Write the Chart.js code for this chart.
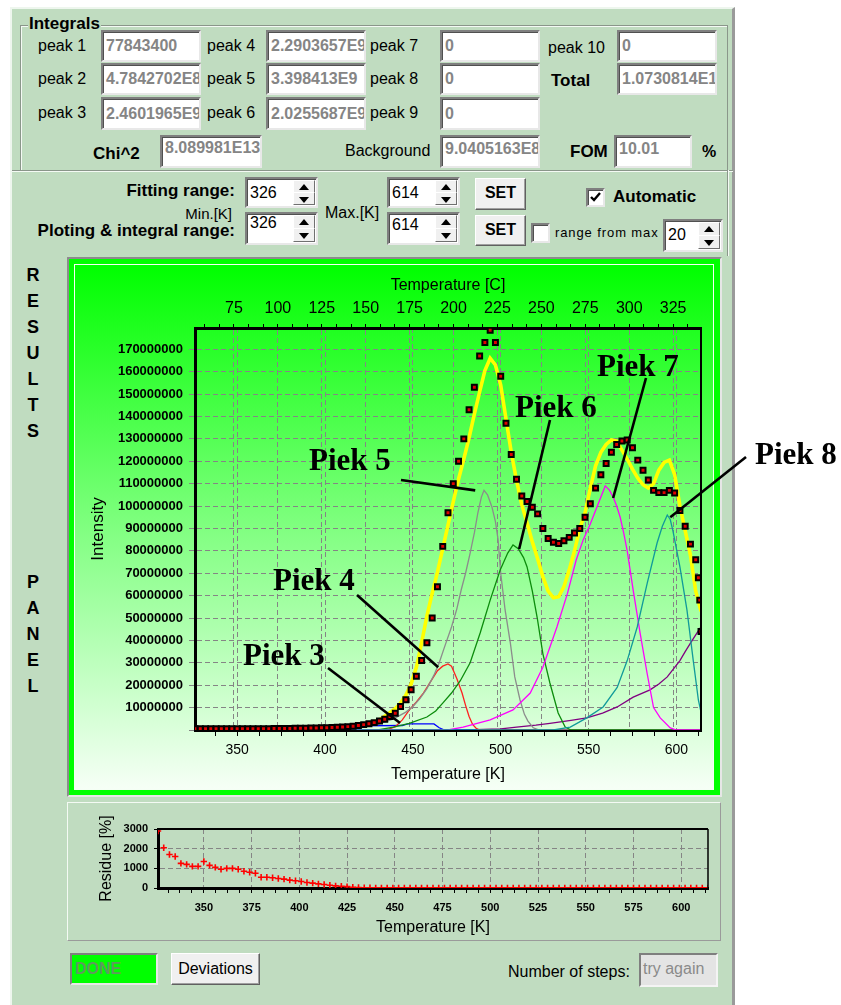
<!DOCTYPE html>
<html><head><meta charset="utf-8">
<script src="https://cdn.jsdelivr.net/npm/chart.js@4.4.1/dist/chart.umd.min.js"></script>
<style>
*{box-sizing:border-box}
body{margin:0;width:841px;height:1005px;background:#fff;position:relative;overflow:hidden;font-family:"Liberation Sans",Arial,sans-serif;color:#000}
#app{position:absolute;left:10px;top:7px;width:725px;height:1010px;background:#c0dcc0;border-left:2px solid #eef6ee;border-top:2px solid #eef6ee;border-right:3px solid #9a9a9a}
.t{position:absolute;white-space:nowrap;line-height:20px;font-size:16px}
.b{font-weight:bold}
.r{text-align:right}
.box{position:absolute;background:#fff;border-style:solid;border-width:2px;border-color:#7f7f7f #e8e8e8 #e8e8e8 #7f7f7f;box-shadow:inset 1px 1px 0 #505050;overflow:hidden;white-space:nowrap;color:#858585;font-weight:bold;font-size:16px;padding-left:3px}
.spin{position:absolute;background:#fff;border-style:solid;border-width:2px;border-color:#7f7f7f #e8e8e8 #e8e8e8 #7f7f7f;box-shadow:inset 1px 1px 0 #505050;font-size:16px;padding-left:3px;white-space:nowrap}
.sb{position:absolute;right:1px;width:22px;background:#f0f0f0;border:1px solid;border-color:#fff #707070 #707070 #fff}
.sb:after{content:"";position:absolute;left:5px;border-left:5px solid transparent;border-right:5px solid transparent}
.up{top:1px}.up:after{top:3px;border-bottom:6px solid #000}
.dn{bottom:1px}.dn:after{top:4px;border-top:6px solid #000}
.btn{position:absolute;background:#f0f0f0;border:1px solid;border-color:#fff #606060 #606060 #fff;box-shadow:inset -1px -1px 0 #a0a0a0;text-align:center;font-size:16px;white-space:nowrap}
.chk{position:absolute;background:#fff;border-style:solid;border-width:2px;border-color:#7f7f7f #e8e8e8 #e8e8e8 #7f7f7f;box-shadow:inset 1px 1px 0 #505050}
.let{position:absolute;left:23px;width:20px;text-align:center;font-weight:bold;font-size:18px;line-height:26px}
.pk{position:absolute;font:bold 31px "Liberation Serif","Times New Roman",serif;line-height:31px;white-space:nowrap;z-index:5}
canvas{position:absolute;z-index:3}
</style></head>
<body>
<div id="app"></div>
<!-- group box -->
<div style="position:absolute;left:20px;top:25px;width:708px;height:146px;border:1px solid #8a968a;border-bottom:none;box-shadow:inset 1px 1px 0 #f4faf4"></div>
<div style="position:absolute;left:12px;top:170px;width:721px;height:2px;border-top:1px solid #8a968a;border-bottom:1px solid #f4faf4"></div>
<div style="position:absolute;left:727px;top:170px;width:2px;height:86px;border-left:1px solid #8a968a;border-right:1px solid #f4faf4"></div>
<div class="t b" style="left:28px;top:14px;font-size:17px;background:#c0dcc0;padding:0 1px">Integrals</div>

<div class="t" style="left:38px;top:36px">peak 1</div>
<div class="t" style="left:38px;top:69px">peak 2</div>
<div class="t" style="left:38px;top:103px">peak 3</div>
<div class="t" style="left:207px;top:36px">peak 4</div>
<div class="t" style="left:207px;top:69px">peak 5</div>
<div class="t" style="left:207px;top:103px">peak 6</div>
<div class="t" style="left:370px;top:36px">peak 7</div>
<div class="t" style="left:370px;top:69px">peak 8</div>
<div class="t" style="left:370px;top:103px">peak 9</div>
<div class="t" style="left:548px;top:38px">peak 10</div>
<div class="t b" style="left:551px;top:71px;font-size:17px">Total</div>
<div class="t b" style="left:93px;top:144px;font-size:17px">Chi^2</div>
<div class="t" style="left:345px;top:141px">Background</div>
<div class="t b" style="left:570px;top:142px;font-size:17px">FOM</div>
<div class="t b" style="left:702px;top:142px">%</div>

<div class="box" style="left:101px;top:30px;width:100px;height:32px;line-height:28px">77843400</div>
<div class="box" style="left:101px;top:63px;width:100px;height:32px;line-height:28px">4.7842702E8</div>
<div class="box" style="left:101px;top:97px;width:100px;height:33px;line-height:30px">2.4601965E9</div>
<div class="box" style="left:266px;top:30px;width:100px;height:32px;line-height:28px">2.2903657E9</div>
<div class="box" style="left:266px;top:63px;width:100px;height:32px;line-height:28px">3.398413E9</div>
<div class="box" style="left:266px;top:97px;width:100px;height:33px;line-height:30px">2.0255687E9</div>
<div class="box" style="left:440px;top:30px;width:100px;height:32px;line-height:28px">0</div>
<div class="box" style="left:440px;top:63px;width:100px;height:32px;line-height:28px">0</div>
<div class="box" style="left:440px;top:97px;width:100px;height:33px;line-height:30px">0</div>
<div class="box" style="left:617px;top:30px;width:100px;height:32px;line-height:28px">0</div>
<div class="box" style="left:617px;top:63px;width:100px;height:32px;line-height:28px">1.0730814E10</div>
<div class="box" style="left:160px;top:135px;width:102px;height:33px;line-height:22px">8.089981E13</div>
<div class="box" style="left:440px;top:135px;width:100px;height:33px;line-height:24px">9.0405163E8</div>
<div class="box" style="left:614px;top:135px;width:78px;height:33px;line-height:24px">10.01</div>

<!-- controls -->
<div class="t b r" style="left:35px;width:200px;top:181px;font-size:17px">Fitting range:</div>
<div class="t r" style="left:132px;width:100px;top:204px;font-size:15px">Min.[K]</div>
<div class="t b r" style="left:20px;width:215px;top:221px;font-size:17px">Ploting &amp; integral range:</div>
<div class="t" style="left:325px;top:203px">Max.[K]</div>
<div class="spin" style="left:245px;top:177px;width:73px;height:31px;line-height:27px">326<div class="sb up" style="height:13px"></div><div class="sb dn" style="height:13px"></div></div>
<div class="spin" style="left:245px;top:212px;width:73px;height:33px;line-height:18px">326<div class="sb up" style="height:14px"></div><div class="sb dn" style="height:14px"></div></div>
<div class="spin" style="left:387px;top:177px;width:73px;height:31px;line-height:27px">614<div class="sb up" style="height:13px"></div><div class="sb dn" style="height:13px"></div></div>
<div class="spin" style="left:387px;top:212px;width:73px;height:33px;line-height:22px">614<div class="sb up" style="height:14px"></div><div class="sb dn" style="height:14px"></div></div>
<div class="btn b" style="left:475px;top:178px;width:51px;height:32px;line-height:28px">SET</div>
<div class="btn b" style="left:475px;top:215px;width:51px;height:31px;line-height:27px">SET</div>
<div class="chk" style="left:586px;top:188px;width:19px;height:19px"><svg width="15" height="15" style="position:absolute;left:0;top:0"><polyline points="3,7 6,10 12,3" fill="none" stroke="#000" stroke-width="2.4"/></svg></div>
<div class="t b" style="left:613px;top:187px;font-size:17px">Automatic</div>
<div class="chk" style="left:531px;top:223px;width:19px;height:20px"></div>
<div class="t" style="left:555px;top:223px;font-size:13px;letter-spacing:0.9px">range from max</div>
<div class="spin" style="left:663px;top:219px;width:60px;height:33px;line-height:28px">20<div class="sb up" style="height:14px"></div><div class="sb dn" style="height:14px"></div></div>

<!-- RESULTS PANEL -->
<div class="let" style="top:262px">R<br>E<br>S<br>U<br>L<br>T<br>S</div>
<div class="let" style="top:569px">P<br>A<br>N<br>E<br>L</div>

<!-- main chart frame -->
<div style="position:absolute;left:67px;top:257px;width:655px;height:540px;border:2px solid;border-color:#8c8c8c #e6e6e6 #e6e6e6 #8c8c8c;background:#00ff00">
  <div style="position:absolute;left:5px;top:5px;right:6px;bottom:5px;border:1px solid #f4fff4;background:linear-gradient(#00ff00 0%,#80ff80 50%,#f6fff6 100%)"></div>
</div>
<canvas id="main" width="774" height="540" style="left:67px;top:257px"></canvas>

<div class="pk" style="left:309px;top:444px">Piek 5</div>
<div class="pk" style="left:515px;top:391px">Piek 6</div>
<div class="pk" style="left:597px;top:350px">Piek 7</div>
<div class="pk" style="left:755px;top:438px">Piek 8</div>
<div class="pk" style="left:273px;top:564px">Piek 4</div>
<div class="pk" style="left:243px;top:639px">Piek 3</div>

<!-- residue panel -->
<div style="position:absolute;left:67px;top:802px;width:654px;height:139px;border:1px solid;border-color:#f4faf4 #9a9a9a #9a9a9a #f4faf4"></div>
<canvas id="resid" width="653" height="138" style="left:67px;top:802px"></canvas>

<!-- bottom -->
<div style="position:absolute;left:70px;top:953px;width:88px;height:32px;background:#00ff00;border:2px solid;border-color:#7f7f7f #e8e8e8 #e8e8e8 #7f7f7f;font-weight:bold;font-size:16px;line-height:28px;padding-left:3px;color:#5f9a5f">DONE</div>
<div class="btn" style="left:171px;top:953px;width:89px;height:32px;line-height:29px">Deviations</div>
<div class="t" style="left:508px;top:962px">Number of steps:</div>
<div style="position:absolute;left:639px;top:953px;width:79px;height:34px;background:#e4e4e4;border:2px solid;border-color:#7f7f7f #f4f4f4 #f4f4f4 #7f7f7f;font-size:16px;line-height:28px;padding-left:2px;color:#8a8a8a;white-space:nowrap;overflow:hidden">try again</div>

<script>
// ---------- data (temperatures in K, intensities in millions) ----------
const K_MAJOR = [350,400,450,500,550,600];
const C_MAJOR = [75,100,125,150,175,200,225,250,275,300,325];
const Y_TICKS = [0,10000000,20000000,30000000,40000000,50000000,60000000,70000000,80000000,90000000,100000000,110000000,120000000,130000000,140000000,150000000,160000000,170000000];
const R_K_MAJOR = [350,375,400,425,450,475,500,525,550,575,600];
const R_Y_TICKS = [0,1000,2000,3000];

const DATA_K = [326,329,332,335,338,341,344,347,350,353,356,359,362,365,368,371,374,377,380,383,386,389,392,395,398,401,404,407,410,413,416,419,422,425,428,431,434,437,440,443,446,449,452,455,458,461,464,467,470,473,476,479,482,485,488,491,494,497,500,503,506,509,512,515,518,521,524,527,530,533,536,539,542,545,548,551,554,557,560,563,566,569,572,575,578,581,584,587,590,593,596,599,602,605,608,611,612.5,613.3,614];
const DATA_MIO = [0.6,0.6,0.6,0.6,0.6,0.6,0.6,0.6,0.6,0.6,0.6,0.6,0.6,0.6,0.6,
  0.7,0.7,0.7,0.7,0.8,0.8,0.8,
  0.9,0.9,1.0,1.0,1.1,1.2,1.3,
  1.5,1.7,2.0,2.4,2.8,3.3,4.0,4.8,6.0,
  7.5,10.5,13.5,18,24,31,39,50,64,
  82,97,110,120,130,143,153,167,173,178.5,
  173,158,137,123,112,104.5,102,99.5,96.5,90,
  85.5,83.8,83.3,84.5,86,88,90,95,101,108,
  114,119,124,127.5,129,129.5,126,120.5,116,111.6,
  107,106,106,107,105.8,98,91,83,76,68,58,44];

const GRID_K = [326,329,332,335,338,341,344,347,350,353,356,359,362,365,368,371,374,377,380,383,386,389,392,395,398,401,404,407,410,413,416,419,422,425,428,431,434,437,440,443,446,449,452,455,458,461,464,467,470,473,476,479,482,485,488,491,494,497,500,503,506,509,512,515,518,521,524,527,530,533,536,539,542,545,548,551,554,557,560,563,566,569,572,575,578,581,584,587,590,593,596,599,602,605,608,611,614];
const FIT_MIO = [0.3,0.3,0.3,0.3,0.3,0.3,0.3,0.3,0.3,0.3,0.3,0.3,0.3,0.3,0.3,0.3,0.3,
  0.35,0.4,0.4,0.45,0.5,0.55,0.6,0.7,0.8,
  0.9,1.0,1.2,1.4,1.7,2.0,2.4,2.8,3.6,4.6,
  6.2,7.8,9.5,12,15.5,20.5,28,39,51,61,
  70.5,81,91.5,102,112,121,130.5,141,151,160.5,
  166,163,154,139,124,111.5,100.5,92.5,84,76.5,
  68.5,62,59,59.5,64,71.5,80,90,97,108,
  118,124,127.5,129.5,129,125,121,116.5,112.5,109.5,
  108,110,116,119.5,120.5,114,100,89,78,62,53];
const RESIDUE_PCT = [2900,2050,1700,1600,1250,1200,1100,1100,1350,1150,1050,950,1000,1000,950,850,800,750,550,550,520,480,450,400,370,330,280,250,210,180,140,110,90,70,40,25,15,
  10,8,8,6,6,5,5,5,4,5,4,4,5,6,5,4,4,5,5,6,5,4,4,4,5,5,4,4,5,4,4,5,5,4,4,4,5,5,4,4,5,4,4,5,6,5,4,4,5,5,4,4,5,5,4,4,5,6,6,8];

const P3_K = [326,390,392,414,417,444,447,462,465,468,614];
const P3_MIO = [0,0,1.0,1.1,1.8,2.0,2.7,2.7,1.0,0,0];
const P4_K = [326,432,436,440,444,448,452,456,460,464,467,470,472,475,478,480,482,484,486,488,614];
const P4_MIO = [0,0,0.3,1.5,4.5,9,12.5,16.5,21.5,26.5,28.5,29.5,28.5,23,16.5,11,6,2.5,0.8,0,0];
const P5_K = [326,410,420,430,439,446,450,454,458,462,465,468,472,475,477.5,480,482.6,485,487,489,490.5,492.5,495,497,498.5,500,502.5,505.5,508,511,513.5,515.5,518.5,522,614];
const P5_MIO = [0,0,1.0,2.5,5,8,10.5,14,18.5,24.5,30,37,46,54,62.5,70,79,88,97,104,107,105,99.6,93,85,70,53.6,38.8,23.7,13.4,7,4,1,0,0];
const P6_K = [326,430,439,448,458,463,467,472,477,482.6,488.3,494,499.7,504,507,510,513,515,518,520.8,524,528,532.7,536.7,540,614];
const P6_MIO = [0,0,1.3,3,5.8,8.5,12,16.5,22,30,43.3,58,71.4,79,82.6,81,77,72.8,62,50,34,21,7.6,1.3,0,0];
const P7_K = [326,470,478.6,494,507,516.8,524,532,538,543,547,551,555,559.5,562,564,566,568,570,572,575.4,579.4,583.4,587,590.8,596.5,600,614];
const P7_MIO = [0,0,1.3,4.5,9,16.5,28,46,61,76,85,92,100,109,107,104,100,95,88,80,62.5,43,25,10,5.4,0.9,0,0];
const P8_K = [326,530,539.6,549,558.3,566.3,572,577.7,583.4,589,592,594.8,596.5,598,602,606,609.6,612.5,614];
const P8_MIO = [0,0,1.3,5.4,10.3,19,31,46,65.6,83.5,91,96,94,89,72.8,53.6,31,13.4,8];
const BG_K = [326,480,500,509,520,528,540,549,558,566.3,575.4,585,590,594.8,598,602,605,608,611,614];
const BG_MIO = [0,0,0.5,1.3,2.2,3,4.3,5.4,7.5,10.3,14.7,17.9,20.5,23.7,27,31,35,38.8,42.5,46];

// leader lines: label anchor in page px, target in data units (K, intensity)
const ANNOTS = [
  {px:401, py:480, k:485.5, v:107e6},
  {px:550, py:420, k:510.5, v:80.8e6},
  {px:646, py:378, k:564,   v:103.6e6},
  {px:746, py:457, k:596.5, v:95e6},
  {px:357, py:595, k:464.4, v:28e6},
  {px:328, py:668, k:442.7, v:3.1e6}
];

// ---------- helpers ----------
const MIO = 1e6;
const pts = (ks, vs, s=1) => ks.map((k,i)=>({x:k, y:vs[i]*s}));
function tickList(step, min, max){ const o=[]; const n0=Math.ceil(min/step-1e-9), n1=Math.floor(max/step+1e-9); for(let n=n0;n<=n1;n++) o.push(+(n*step).toFixed(4)); return o; }
const isIn = (arr,v)=>arr.some(m=>Math.abs(m-v)<1e-6);
const GRID_C = '#858585';
Chart.defaults.font.family = '"Liberation Sans", Arial, sans-serif';
Chart.defaults.color = '#000';

const CANVAS_X = 67, CANVAS_Y = 257;
const K_MIN = 326, K_MAX = 614, C_OFF = 273.15;

const framePlugin = {
  id:'frame',
  afterDatasetsDraw(chart, args, opts){
    const {ctx, chartArea:a} = chart;
    ctx.save(); ctx.strokeStyle='#000';
    ctx.lineWidth = opts.right || 2;
    ctx.beginPath(); ctx.moveTo(a.right, a.top); ctx.lineTo(a.right, a.bottom); ctx.stroke();
    if (opts.top) { ctx.lineWidth = opts.top; ctx.beginPath(); ctx.moveTo(a.left, a.top); ctx.lineTo(a.right, a.top); ctx.stroke(); }
    ctx.restore();
  }
};
const annotPlugin = {
  id:'annots',
  afterDraw(chart){
    const {ctx, scales} = chart;
    ctx.save(); ctx.strokeStyle='#000'; ctx.lineWidth=2.6; ctx.lineCap='butt';
    ANNOTS.forEach(a=>{
      ctx.beginPath();
      ctx.moveTo(a.px-CANVAS_X, a.py-CANVAS_Y);
      ctx.lineTo(scales.x.getPixelForValue(a.k), scales.y.getPixelForValue(a.v));
      ctx.stroke();
    });
    ctx.restore();
  }
};

const line = (ks, vs, color) => ({data:pts(ks,vs,MIO), borderColor:color, borderWidth:1.3, pointRadius:0, xAxisID:'x', yAxisID:'y'});

new Chart(document.getElementById('main'), {
  type:'line',
  data:{datasets:[
    {data:pts(DATA_K,DATA_MIO,MIO), showLine:false, pointStyle:'rect', pointRadius:3.5, pointBorderWidth:2, pointBorderColor:'#000', pointBackgroundColor:'#e00000', xAxisID:'x', yAxisID:'y'},
    {data:pts(GRID_K,FIT_MIO,MIO), borderColor:'#ffff00', borderWidth:3.6, pointRadius:0, xAxisID:'x', yAxisID:'y'},
    line(P8_K,P8_MIO,'#119a9a'),
    line(P7_K,P7_MIO,'#ff00ff'),
    line(P6_K,P6_MIO,'#0c8c0c'),
    line(P5_K,P5_MIO,'#8c8c8c'),
    line(P4_K,P4_MIO,'#ff2020'),
    line(P3_K,P3_MIO,'#0000ff'),
    line(BG_K,BG_MIO,'#800080')
  ]},
  options:{
    responsive:false, animation:false, devicePixelRatio:1,
    layout:{padding:{left:8,right:140,top:0,bottom:7}},
    plugins:{legend:{display:false}, tooltip:{enabled:false}, frame:{right:2}},
    scales:{
      x:{type:'linear', position:'bottom', min:K_MIN, max:K_MAX,
        afterBuildTicks:s=>{s.ticks=tickList(12.5,K_MIN,K_MAX).map(v=>({value:v}));},
        afterFit:s=>{s.height=60;},
        ticks:{autoSkip:false, maxRotation:0, padding:6, font:{size:14}, callback:v=>isIn(K_MAJOR,v)?String(v):''},
        grid:{color:c=>c.tick&&isIn(K_MAJOR,c.tick.value)?GRID_C:'rgba(0,0,0,0)', tickColor:'#000', tickLength:6, lineWidth:1},
        border:{display:true,color:'#000',width:3,dash:[5,3]},
        title:{display:true,text:'Temperature [K]',font:{size:16},padding:{top:0,bottom:6}}
      },
      xc:{type:'linear', axis:'x', position:'top', min:K_MIN-C_OFF, max:K_MAX-C_OFF,
        afterBuildTicks:s=>{s.ticks=tickList(25/3,K_MIN-C_OFF,K_MAX-C_OFF).map(v=>({value:v}));},
        afterFit:s=>{s.height=71;},
        ticks:{autoSkip:false, maxRotation:0, padding:6, font:{size:16}, callback:v=>isIn(C_MAJOR,v)?String(Math.round(v)):''},
        grid:{color:c=>c.tick&&isIn(C_MAJOR,c.tick.value)?GRID_C:'rgba(0,0,0,0)', tickColor:'#000', tickLength:4, lineWidth:1},
        border:{display:true,color:'#000',width:3,dash:[5,3]},
        title:{display:true,text:'Temperature [C]',font:{size:16},padding:{top:19,bottom:0}}
      },
      y:{type:'linear', position:'left', min:0, max:179500000,
        afterBuildTicks:s=>{s.ticks=Y_TICKS.map(v=>({value:v}));},
        afterFit:s=>{s.width=120;},
        ticks:{autoSkip:false, padding:6, font:{size:13,weight:'bold'}, callback:v=>v===0?'':String(v)},
        grid:{color:GRID_C, tickColor:GRID_C, tickLength:6, lineWidth:1},
        border:{display:true,color:'#000',width:3,dash:[5,3]},
        title:{display:true,text:'Intensity',font:{size:17},padding:{top:13,bottom:0}}
      }
    }
  },
  plugins:[framePlugin, annotPlugin]
});

new Chart(document.getElementById('resid'), {
  type:'line',
  data:{datasets:[
    {data:pts(GRID_K,RESIDUE_PCT), showLine:false, pointStyle:'cross', pointRadius:3.2, pointBorderWidth:1.6, pointBorderColor:'#ff0000', pointBackgroundColor:'#ff0000'}
  ]},
  options:{
    responsive:false, animation:false, devicePixelRatio:1,
    layout:{padding:{left:0,right:12,top:27,bottom:0}},
    plugins:{legend:{display:false}, tooltip:{enabled:false}, frame:{right:1.5, top:2}},
    scales:{
      x:{type:'linear', position:'bottom', min:K_MIN, max:K_MAX,
        afterBuildTicks:s=>{s.ticks=tickList(6.25,K_MIN,K_MAX).map(v=>({value:v}));},
        afterFit:s=>{s.height=52;},
        ticks:{autoSkip:false, maxRotation:0, padding:8, font:{size:11,weight:'bold'}, callback:v=>isIn(R_K_MAJOR,v)?String(v):''},
        grid:{color:c=>c.tick&&isIn(R_K_MAJOR,c.tick.value)?GRID_C:'rgba(0,0,0,0)', tickColor:'#000', tickLength:5, lineWidth:1},
        border:{display:true,color:'#000',width:3,dash:[5,3]},
        title:{display:true,text:'Temperature [K]',font:{size:16},padding:{top:0,bottom:3}}
      },
      y:{type:'linear', position:'left', min:0, max:3000,
        afterBuildTicks:s=>{s.ticks=R_Y_TICKS.map(v=>({value:v}));},
        afterFit:s=>{s.width=91;},
        ticks:{autoSkip:false, padding:6, font:{size:11,weight:'bold'}, callback:v=>String(v)},
        grid:{color:c=>c.tick&&c.tick.value===3000?'rgba(0,0,0,0)':GRID_C, tickColor:'#000', tickLength:4, lineWidth:1},
        border:{display:true,color:'#000',width:3,dash:[5,3]},
        title:{display:true,text:'Residue [%]',font:{size:16},padding:{top:30,bottom:0}}
      }
    }
  },
  plugins:[framePlugin]
});
</script>
</body></html>
